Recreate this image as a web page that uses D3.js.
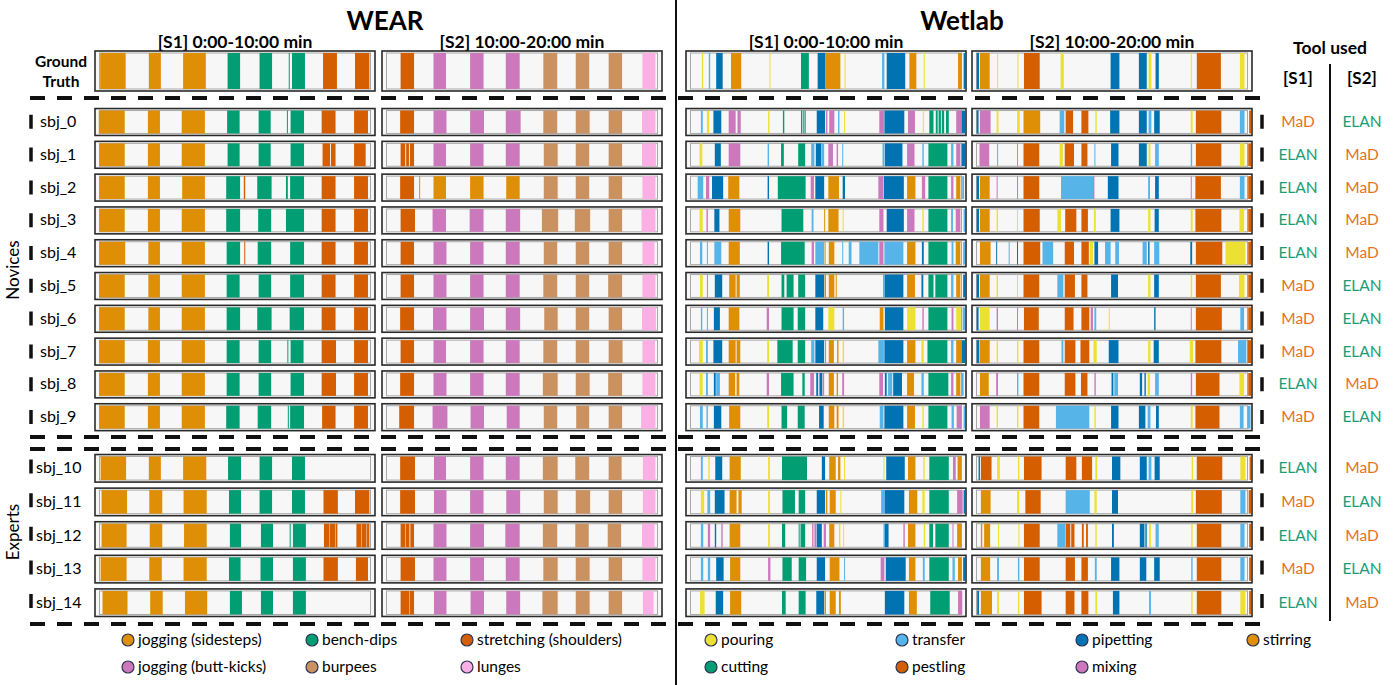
<!DOCTYPE html>
<html>
<head>
<meta charset="utf-8">
<script src="https://cdn.jsdelivr.net/npm/d3@7"></script>
<style>
  body { margin: 0; background: #fff; }
  svg { display: block; font-family: Lato, "Open Sans", "Liberation Sans", sans-serif; }
</style>
</head>
<body>
<svg id="chart" width="1400" height="685"></svg>
<script>
// ---------- rows ----------
const groundTruth = "Ground Truth";
const noviceRows = ["sbj_0","sbj_1","sbj_2","sbj_3","sbj_4","sbj_5","sbj_6","sbj_7","sbj_8","sbj_9"];
const expertRows = ["sbj_10","sbj_11","sbj_12","sbj_13","sbj_14"];
const allRows = [groundTruth, ...noviceRows, ...expertRows];

// annotation tool used per subject (session 1 / session 2)
const toolS1 = ["MaD","ELAN","ELAN","ELAN","ELAN","MaD","MaD","MaD","ELAN","MaD","ELAN","MaD","ELAN","MaD","ELAN"];
const toolS2 = ["ELAN","MaD","MaD","MaD","MaD","ELAN","ELAN","ELAN","MaD","ELAN","MaD","ELAN","MaD","ELAN","MaD"];

// ---------- activity classes ----------
const wearCodes = ["side","dips","stretch","butt","burp","lunge"];
const wearNames = ["jogging (sidesteps)","bench-dips","stretching (shoulders)","jogging (butt-kicks)","burpees","lunges"];
const wetCodes = ["pour","trans","pip","stir","cut","pest","mix"];
const wetNames = ["pouring","transfer","pipetting","stirring","cutting","pestling","mixing"];

// ---------- annotated segments [start s, end s, class], one list per row ----------
// WEAR, session 1 (0:00-10:00)
const wearS1 = [
  [[9,64,"side"],[114,140,"side"],[188,237,"side"],[284,311,"dips"],[353,380,"dips"],[416,418,"dips"],[423,451,"dips"],[490,520,"stretch"],[559,590,"stretch"]],
  [[6,62,"side"],[112,138,"side"],[185,235,"side"],[283,310,"dips"],[351,377,"dips"],[412,414,"dips"],[420,449,"dips"],[487,517,"stretch"],[557,587,"stretch"]],
  [[7,62,"side"],[112,138,"side"],[185,235,"side"],[284,310,"dips"],[351,377,"dips"],[420,449,"dips"],[489,505,"stretch"],[507,517,"stretch"],[557,582,"stretch"]],
  [[7,62,"side"],[112,138,"side"],[186,235,"side"],[281,311,"dips"],[319,322,"stretch"],[348,379,"dips"],[410,414,"dips"],[419,449,"dips"],[487,517,"stretch"],[557,587,"stretch"]],
  [[7,62,"side"],[112,138,"side"],[185,235,"side"],[281,311,"dips"],[350,378,"dips"],[410,449,"dips"],[487,517,"stretch"],[557,587,"stretch"]],
  [[7,63,"side"],[113,138,"side"],[185,235,"side"],[282,311,"dips"],[320,322,"stretch"],[349,378,"dips"],[419,449,"dips"],[487,517,"stretch"],[557,587,"stretch"]],
  [[7,62,"side"],[113,138,"side"],[185,235,"side"],[282,310,"dips"],[351,378,"dips"],[419,449,"dips"],[487,517,"stretch"],[557,587,"stretch"]],
  [[7,62,"side"],[113,138,"side"],[185,235,"side"],[282,311,"dips"],[348,379,"dips"],[418,449,"dips"],[487,517,"stretch"],[557,587,"stretch"]],
  [[7,62,"side"],[112,138,"side"],[185,235,"side"],[282,310,"dips"],[351,378,"dips"],[413,414,"dips"],[420,448,"dips"],[487,518,"stretch"],[557,587,"stretch"]],
  [[7,62,"side"],[112,138,"side"],[185,235,"side"],[282,310,"dips"],[351,378,"dips"],[420,449,"dips"],[487,518,"stretch"],[557,587,"stretch"]],
  [[7,62,"side"],[112,138,"side"],[185,235,"side"],[281,310,"dips"],[349,378,"dips"],[414,415,"dips"],[419,449,"dips"],[488,517,"stretch"],[557,587,"stretch"]],
  [[10,65,"side"],[114,140,"side"],[188,238,"side"],[285,313,"dips"],[353,380,"dips"],[423,451,"dips"]],
  [[12,67,"side"],[115,143,"side"],[189,239,"side"],[287,313,"dips"],[353,380,"dips"],[423,451,"dips"],[491,522,"stretch"],[559,590,"stretch"]],
  [[12,66,"side"],[116,143,"side"],[190,239,"side"],[289,313,"dips"],[356,382,"dips"],[418,419,"dips"],[425,453,"dips"],[492,504,"stretch"],[505,516,"stretch"],[517,521,"stretch"],[562,572,"stretch"],[573,584,"stretch"],[585,590,"stretch"]],
  [[10,66,"side"],[115,142,"side"],[189,239,"side"],[287,312,"dips"],[355,382,"dips"],[425,453,"dips"],[491,522,"stretch"],[561,587,"stretch"]],
  [[14,68,"side"],[117,144,"side"],[192,240,"side"],[289,315,"dips"],[356,382,"dips"],[425,453,"dips"]]
];

// WEAR, session 2 (10:00-20:00)
const wearS2 = [
  [[638,667,"stretch"],[709,736,"butt"],[788,817,"butt"],[865,895,"butt"],[946,976,"burp"],[1016,1045,"burp"],[1087,1116,"burp"],[1160,1188,"lunge"]],
  [[637,667,"stretch"],[709,737,"butt"],[788,818,"butt"],[865,897,"butt"],[946,976,"burp"],[1016,1046,"burp"],[1087,1116,"burp"],[1159,1188,"lunge"]],
  [[638,648,"stretch"],[650,656,"stretch"],[658,667,"stretch"],[709,736,"butt"],[788,817,"butt"],[865,895,"butt"],[947,977,"burp"],[1016,1045,"burp"],[1087,1116,"burp"],[1159,1189,"lunge"]],
  [[637,667,"stretch"],[678,680,"side"],[709,736,"side"],[788,817,"side"],[866,895,"side"],[947,977,"burp"],[1016,1045,"burp"],[1087,1116,"burp"],[1160,1188,"lunge"]],
  [[638,669,"stretch"],[707,736,"butt"],[787,817,"butt"],[865,896,"butt"],[943,978,"burp"],[1014,1047,"burp"],[1087,1116,"burp"],[1158,1188,"lunge"]],
  [[638,667,"stretch"],[709,737,"butt"],[788,817,"butt"],[865,895,"butt"],[947,976,"burp"],[1016,1045,"burp"],[1087,1116,"burp"],[1160,1186,"lunge"]],
  [[638,667,"stretch"],[709,737,"butt"],[788,817,"butt"],[865,895,"butt"],[946,976,"burp"],[1016,1045,"burp"],[1086,1116,"burp"],[1160,1188,"lunge"]],
  [[637,667,"stretch"],[708,737,"butt"],[788,818,"butt"],[865,896,"butt"],[948,977,"burp"],[1016,1045,"burp"],[1087,1116,"burp"],[1159,1189,"lunge"]],
  [[638,667,"stretch"],[709,736,"butt"],[788,817,"butt"],[865,895,"butt"],[946,976,"burp"],[1016,1045,"burp"],[1087,1117,"burp"],[1160,1187,"lunge"]],
  [[637,667,"stretch"],[709,737,"butt"],[788,817,"butt"],[865,895,"butt"],[945,977,"burp"],[1016,1046,"burp"],[1086,1116,"burp"],[1160,1188,"lunge"]],
  [[635,667,"stretch"],[707,739,"butt"],[789,818,"butt"],[867,895,"butt"],[947,976,"burp"],[1017,1045,"burp"],[1087,1116,"burp"],[1157,1188,"lunge"]],
  [[637,669,"stretch"],[710,736,"butt"],[788,817,"butt"],[865,895,"butt"],[945,977,"burp"],[1015,1045,"burp"],[1087,1115,"burp"],[1161,1188,"lunge"]],
  [[637,669,"stretch"],[710,737,"butt"],[788,817,"butt"],[866,896,"butt"],[947,977,"burp"],[1016,1047,"burp"],[1087,1116,"burp"],[1161,1188,"lunge"]],
  [[638,648,"stretch"],[649,657,"stretch"],[659,667,"stretch"],[709,737,"butt"],[788,818,"butt"],[864,895,"butt"],[945,976,"burp"],[1015,1044,"burp"],[1085,1114,"burp"],[1159,1186,"lunge"]],
  [[638,669,"stretch"],[709,737,"butt"],[788,818,"butt"],[865,895,"butt"],[946,977,"burp"],[1016,1046,"burp"],[1087,1116,"burp"],[1160,1188,"lunge"]],
  [[638,657,"stretch"],[658,667,"stretch"],[710,737,"butt"],[789,818,"butt"],[866,896,"butt"],[944,977,"burp"],[1016,1046,"burp"],[1087,1116,"burp"],[1161,1184,"lunge"]]
];

// Wetlab, session 1 (0:00-10:00)
const wetS1 = [
  [[32,35,"pour"],[47,50,"trans"],[63,77,"pip"],[95,117,"stir"],[178,180,"pour"],[246,263,"cut"],[282,299,"pip"],[300,331,"stir"],[340,342,"pour"],[421,426,"trans"],[431,471,"pip"],[480,495,"stir"],[511,513,"pour"],[585,593,"stir"],[597,600,"pip"]],
  [[30,34,"trans"],[43,48,"pour"],[57,74,"pip"],[90,105,"mix"],[109,116,"mix"],[175,178,"pour"],[207,210,"cut"],[246,249,"cut"],[251,253,"cut"],[254,256,"cut"],[280,298,"pip"],[300,303,"mix"],[307,318,"mix"],[326,329,"trans"],[339,341,"pour"],[415,425,"mix"],[426,469,"pip"],[477,492,"mix"],[509,511,"pour"],[523,532,"cut"],[537,541,"cut"],[543,548,"cut"],[550,555,"cut"],[559,565,"cut"],[581,592,"mix"],[593,600,"pip"]],
  [[27,33,"pour"],[60,73,"pip"],[90,115,"mix"],[174,177,"trans"],[203,209,"cut"],[240,255,"cut"],[268,275,"trans"],[278,290,"pip"],[291,296,"trans"],[305,315,"mix"],[323,326,"mix"],[335,337,"trans"],[422,426,"trans"],[427,465,"pip"],[475,491,"mix"],[508,511,"trans"],[521,562,"cut"],[570,575,"trans"],[581,590,"mix"],[593,600,"pip"]],
  [[23,35,"trans"],[41,48,"mix"],[54,78,"pip"],[89,113,"stir"],[174,177,"pip"],[196,256,"cut"],[267,274,"mix"],[277,296,"pip"],[305,328,"stir"],[336,341,"pip"],[413,424,"mix"],[425,468,"pip"],[475,493,"stir"],[507,514,"mix"],[521,562,"cut"],[570,575,"mix"],[581,590,"stir"],[594,598,"trans"]],
  [[27,34,"pour"],[42,45,"mix"],[59,70,"pip"],[90,115,"stir"],[204,251,"cut"],[269,273,"trans"],[296,298,"stir"],[305,327,"stir"],[336,338,"pour"],[415,424,"mix"],[431,468,"pip"],[475,491,"mix"],[508,511,"pour"],[521,562,"cut"],[570,574,"trans"],[580,590,"mix"],[597,600,"trans"]],
  [[28,33,"trans"],[43,45,"trans"],[59,74,"trans"],[90,114,"stir"],[174,177,"pip"],[203,254,"cut"],[269,274,"mix"],[277,296,"trans"],[297,299,"stir"],[306,318,"stir"],[335,337,"trans"],[349,355,"trans"],[372,413,"trans"],[415,424,"mix"],[426,467,"trans"],[475,493,"stir"],[507,511,"pip"],[521,562,"cut"],[571,575,"trans"],[580,590,"stir"],[596,600,"trans"]],
  [[28,34,"pour"],[43,45,"mix"],[60,76,"pip"],[91,105,"stir"],[107,114,"stir"],[173,177,"pour"],[204,210,"cut"],[215,230,"cut"],[240,255,"cut"],[277,296,"pip"],[297,300,"stir"],[306,318,"stir"],[321,323,"stir"],[423,427,"trans"],[427,467,"pip"],[475,492,"stir"],[506,510,"pip"],[521,532,"cut"],[536,562,"cut"],[570,575,"trans"],[581,590,"stir"],[596,600,"pip"]],
  [[30,33,"trans"],[43,45,"trans"],[58,71,"pip"],[90,113,"stir"],[172,177,"mix"],[204,230,"cut"],[239,255,"cut"],[277,294,"pip"],[305,318,"pour"],[336,339,"trans"],[416,424,"stir"],[427,467,"pip"],[475,493,"pour"],[508,511,"mix"],[521,562,"cut"],[571,575,"mix"],[581,591,"pour"],[595,600,"trans"]],
  [[26,34,"pour"],[41,45,"trans"],[57,76,"pip"],[90,105,"stir"],[107,115,"stir"],[173,177,"pour"],[195,228,"cut"],[239,255,"cut"],[268,275,"trans"],[277,296,"pip"],[298,300,"stir"],[306,317,"stir"],[324,327,"stir"],[336,339,"pour"],[413,425,"trans"],[426,467,"pip"],[475,493,"stir"],[506,511,"pour"],[519,562,"cut"],[570,575,"trans"],[581,592,"stir"],[593,600,"pip"]],
  [[27,34,"pour"],[41,45,"trans"],[58,62,"pip"],[63,71,"trans"],[90,104,"stir"],[107,113,"stir"],[172,177,"mix"],[203,230,"cut"],[249,254,"cut"],[266,274,"mix"],[279,283,"pip"],[285,287,"mix"],[287,292,"pip"],[293,296,"mix"],[306,317,"stir"],[323,326,"stir"],[335,339,"mix"],[415,423,"mix"],[427,431,"pip"],[434,443,"trans"],[445,464,"pip"],[475,490,"stir"],[506,511,"trans"],[521,564,"cut"],[570,575,"mix"],[581,590,"stir"],[593,597,"trans"]],
  [[28,34,"trans"],[42,45,"trans"],[58,74,"pip"],[91,115,"stir"],[173,177,"pour"],[204,216,"cut"],[239,254,"cut"],[285,295,"pip"],[306,318,"stir"],[323,327,"stir"],[336,339,"pour"],[416,424,"trans"],[426,467,"pip"],[475,492,"stir"],[508,511,"pour"],[521,562,"cut"],[571,576,"trans"],[582,592,"mix"],[597,600,"trans"]],
  [[30,34,"trans"],[46,49,"pour"],[61,76,"pip"],[92,116,"stir"],[175,179,"pour"],[205,259,"cut"],[291,298,"pip"],[307,321,"stir"],[326,331,"stir"],[339,341,"pour"],[424,426,"pour"],[430,470,"pip"],[477,493,"stir"],[510,513,"pour"],[523,565,"cut"],[574,580,"mix"],[584,592,"stir"]],
  [[30,37,"pour"],[44,50,"trans"],[60,81,"pip"],[92,107,"stir"],[111,118,"stir"],[175,179,"pour"],[206,233,"cut"],[241,255,"cut"],[280,298,"pip"],[300,303,"stir"],[308,321,"stir"],[331,333,"pour"],[419,427,"trans"],[427,469,"pip"],[479,497,"stir"],[508,513,"pour"],[523,565,"cut"],[583,595,"mix"],[597,600,"pip"]],
  [[30,35,"trans"],[45,50,"mix"],[60,63,"pip"],[74,77,"mix"],[92,115,"stir"],[175,179,"pour"],[205,212,"cut"],[241,243,"cut"],[245,255,"cut"],[270,273,"mix"],[275,279,"mix"],[280,291,"pip"],[295,300,"mix"],[307,318,"stir"],[328,331,"pour"],[337,339,"pour"],[424,427,"trans"],[427,435,"pip"],[467,470,"mix"],[477,493,"stir"],[511,514,"pour"],[523,531,"cut"],[536,565,"cut"],[573,575,"mix"],[583,592,"stir"]],
  [[30,35,"trans"],[45,50,"trans"],[63,79,"pip"],[93,115,"stir"],[175,180,"mix"],[206,226,"cut"],[241,257,"cut"],[280,298,"pip"],[308,329,"stir"],[339,341,"trans"],[418,426,"mix"],[429,472,"pip"],[479,493,"stir"],[509,513,"trans"],[523,565,"cut"],[573,578,"trans"],[585,592,"stir"],[596,600,"pip"]],
  [[28,38,"pour"],[62,78,"pip"],[93,117,"stir"],[205,213,"cut"],[241,256,"cut"],[279,296,"pip"],[297,300,"stir"],[308,321,"stir"],[328,332,"stir"],[427,469,"pip"],[479,496,"stir"],[525,567,"cut"],[585,594,"mix"]]
];

// Wetlab, session 2 (10:00-20:00)
const wetS2 = [
  [[608,613,"pip"],[615,636,"stir"],[652,654,"pour"],[696,698,"pour"],[710,744,"pest"],[789,796,"pour"],[897,916,"pip"],[958,975,"pip"],[979,985,"pour"],[994,1001,"pip"],[1070,1072,"pour"],[1083,1135,"pest"],[1176,1186,"pour"]],
  [[608,612,"pip"],[615,638,"mix"],[651,655,"pour"],[695,701,"pour"],[709,745,"stir"],[787,797,"trans"],[800,816,"pest"],[834,849,"pest"],[864,867,"pour"],[896,916,"pip"],[958,975,"pip"],[979,985,"trans"],[991,1003,"pip"],[1070,1074,"pour"],[1081,1136,"pest"],[1176,1186,"trans"],[1196,1200,"pest"]],
  [[614,635,"mix"],[652,654,"trans"],[695,697,"trans"],[709,743,"pest"],[787,794,"pour"],[798,818,"pest"],[834,847,"pest"],[862,864,"trans"],[898,914,"pip"],[958,975,"pip"],[979,983,"pour"],[993,1001,"trans"],[1070,1073,"trans"],[1081,1136,"pest"],[1176,1186,"pour"],[1194,1200,"pest"]],
  [[608,613,"pip"],[615,636,"stir"],[651,653,"mix"],[695,697,"mix"],[709,743,"pest"],[790,859,"trans"],[859,862,"mix"],[891,914,"pip"],[978,982,"trans"],[993,1001,"pip"],[1070,1072,"mix"],[1080,1135,"pest"],[1176,1186,"trans"],[1194,1200,"pest"]],
  [[608,613,"pip"],[615,636,"stir"],[651,654,"pour"],[695,697,"pour"],[709,744,"pest"],[782,790,"pour"],[799,823,"pest"],[834,848,"pest"],[861,865,"pour"],[897,916,"pip"],[978,983,"pour"],[992,1001,"pip"],[1070,1074,"pour"],[1080,1136,"pest"],[1175,1185,"pour"],[1194,1200,"pest"]],
  [[615,638,"stir"],[650,652,"pip"],[677,679,"trans"],[695,697,"pip"],[709,745,"pest"],[750,773,"trans"],[798,818,"pest"],[834,850,"pest"],[852,859,"pour"],[862,870,"pip"],[885,897,"trans"],[907,915,"trans"],[966,975,"trans"],[978,981,"pip"],[991,1002,"trans"],[1069,1073,"pip"],[1081,1138,"pest"],[1145,1188,"pour"],[1194,1200,"pest"]],
  [[608,613,"pip"],[615,636,"stir"],[651,654,"pour"],[695,697,"pour"],[709,743,"pest"],[782,795,"trans"],[798,820,"pest"],[834,847,"pest"],[898,913,"pip"],[978,983,"pour"],[991,1001,"pip"],[1070,1073,"pour"],[1081,1135,"pest"],[1174,1186,"pour"],[1194,1200,"pest"]],
  [[608,612,"pip"],[615,636,"pour"],[651,654,"mix"],[695,697,"mix"],[710,742,"pest"],[798,817,"pest"],[834,851,"pest"],[854,859,"mix"],[862,866,"trans"],[893,895,"pour"],[991,994,"pip"],[1070,1072,"mix"],[1081,1137,"pest"],[1177,1185,"trans"],[1194,1200,"pest"]],
  [[608,613,"pip"],[614,636,"stir"],[651,654,"pour"],[695,698,"pour"],[709,743,"pest"],[791,795,"trans"],[798,821,"pest"],[832,851,"pest"],[860,867,"pour"],[893,914,"pip"],[978,983,"pour"],[990,1001,"pip"],[1068,1075,"pour"],[1080,1136,"pest"],[1172,1190,"trans"],[1193,1200,"pest"]],
  [[615,634,"stir"],[650,654,"mix"],[695,698,"trans"],[709,743,"pest"],[798,821,"pest"],[833,847,"pest"],[862,865,"mix"],[899,903,"pip"],[905,913,"trans"],[960,965,"pip"],[970,973,"pip"],[977,982,"pour"],[993,1001,"trans"],[1070,1073,"mix"],[1081,1132,"pest"],[1175,1185,"pour"],[1194,1200,"pest"]],
  [[615,636,"mix"],[651,654,"pour"],[695,698,"pour"],[709,743,"pest"],[779,851,"trans"],[862,865,"pour"],[898,914,"pip"],[958,972,"pip"],[977,983,"trans"],[995,1001,"pip"],[1070,1074,"pour"],[1080,1132,"pest"],[1176,1184,"trans"],[1193,1199,"trans"]],
  [[612,615,"pip"],[617,640,"pest"],[652,658,"pour"],[697,700,"pour"],[710,748,"pest"],[800,823,"pest"],[835,857,"pest"],[864,868,"pour"],[900,918,"pip"],[960,975,"pip"],[979,985,"trans"],[992,1003,"pip"],[1072,1075,"pour"],[1083,1138,"pest"],[1177,1188,"pour"],[1197,1200,"pest"]],
  [[617,638,"stir"],[695,700,"pour"],[713,746,"pest"],[800,852,"trans"],[862,867,"pour"],[900,913,"pip"],[1071,1075,"pour"],[1081,1137,"pest"],[1177,1188,"trans"],[1195,1200,"pest"]],
  [[617,620,"stir"],[624,637,"stir"],[654,656,"pour"],[698,700,"pour"],[710,744,"pest"],[782,799,"trans"],[800,810,"pest"],[812,819,"pest"],[835,839,"pest"],[844,848,"pest"],[864,867,"pour"],[900,904,"pip"],[960,970,"pip"],[972,975,"pip"],[980,984,"pour"],[994,1001,"trans"],[1071,1074,"pour"],[1083,1136,"pest"],[1177,1186,"trans"],[1196,1200,"pest"]],
  [[617,637,"stir"],[652,656,"trans"],[697,700,"trans"],[710,744,"pest"],[800,820,"pest"],[834,848,"pest"],[863,867,"trans"],[898,916,"pip"],[960,974,"pip"],[991,1003,"pip"],[1071,1074,"trans"],[1083,1136,"pest"],[1177,1186,"trans"],[1196,1200,"pest"]],
  [[609,613,"pip"],[617,641,"stir"],[652,656,"pour"],[697,700,"pour"],[710,748,"pest"],[800,819,"pest"],[834,849,"pest"],[864,868,"pour"],[902,916,"pip"],[980,984,"trans"],[1071,1074,"pour"],[1083,1136,"pest"],[1177,1188,"pour"],[1196,1200,"pest"]]
];

// ---------- styling ----------
const wearColor = d3.scaleOrdinal().domain(wearCodes)
  .range(["#DE8F05","#029E73","#D55E00","#CC78BC","#CA9161","#FBAFE4"]);
const wetColor = d3.scaleOrdinal().domain(wetCodes)
  .range(["#ECE133","#56B4E9","#0173B2","#DE8F05","#029E73","#D55E00","#CC78BC"]);
const toolColor = d3.scaleOrdinal().domain(["MaD","ELAN"]).range(["#E3731F","#1A9E77"]);

const svg = d3.select("#chart");
const panelW = 280;

const panels = [
  { data: wearS1, domain: [0, 600],    x0: 95,  color: wearColor, title: "[S1] 0:00-10:00 min" },
  { data: wearS2, domain: [600, 1200], x0: 382, color: wearColor, title: "[S2] 10:00-20:00 min" },
  { data: wetS1,  domain: [0, 600],    x0: 686, color: wetColor,  title: "[S1] 0:00-10:00 min" },
  { data: wetS2,  domain: [600, 1200], x0: 972, color: wetColor,  title: "[S2] 10:00-20:00 min" }
];

// vertical placement of rows
const noviceY = d3.scaleBand().domain(noviceRows).range([105.6, 433.6]).paddingInner(0.18).paddingOuter(0.09);
const expertY = d3.scaleBand().domain(expertRows).range([451.5, 619.5]).paddingInner(0.18).paddingOuter(0.09);
function rowBox(r) {
  if (r === groundTruth) return { y: 51, h: 40 };
  if (noviceRows.includes(r)) return { y: noviceY(r), h: noviceY.bandwidth() };
  return { y: expertY(r), h: expertY.bandwidth() };
}

// ---------- titles ----------
svg.append("text").attr("x", 385).attr("y", 30).attr("text-anchor", "middle")
  .attr("font-size", 26).attr("font-weight", "bold").text("WEAR");
svg.append("text").attr("x", 962).attr("y", 30).attr("text-anchor", "middle")
  .attr("font-size", 26).attr("font-weight", "bold").text("Wetlab");

// ---------- timelines ----------
panels.forEach(p => {
  const x = d3.scaleLinear().domain(p.domain).range([p.x0 + 1, p.x0 + panelW - 1]);
  svg.append("text").attr("x", p.x0 + panelW / 2).attr("y", 48).attr("text-anchor", "middle")
    .attr("font-size", 17.5).attr("font-weight", "bold").text(p.title);

  allRows.forEach((r, i) => {
    const b = rowBox(r);
    const g = svg.append("g");
    g.append("rect").attr("x", p.x0).attr("y", b.y).attr("width", panelW).attr("height", b.h)
      .attr("fill", "#f7f7f7").attr("stroke", "#2a2a2a").attr("stroke-width", 1.6);
    g.append("rect").attr("x", p.x0 + 4.5).attr("y", b.y + 2).attr("width", panelW - 9).attr("height", b.h - 4)
      .attr("fill", "none").attr("stroke", "#a8a8a8").attr("stroke-width", 1);
    g.selectAll("rect.seg").data(p.data[i]).join("rect").attr("class", "seg")
      .attr("x", d => x(d[0]))
      .attr("width", d => Math.max(x(d[1]) - x(d[0]), 1))
      .attr("y", b.y + 2).attr("height", b.h - 4)
      .attr("fill", d => p.color(d[2]));
  });
});

// ---------- row labels ----------
svg.append("text").attr("x", 61).attr("y", 67).attr("text-anchor", "middle")
  .attr("font-size", 15.5).attr("font-weight", "bold").text("Ground");
svg.append("text").attr("x", 61).attr("y", 87).attr("text-anchor", "middle")
  .attr("font-size", 15.5).attr("font-weight", "bold").text("Truth");
noviceRows.forEach(r => {
  svg.append("text").attr("x", 40).attr("y", noviceY(r) + noviceY.bandwidth() / 2 + 5)
    .attr("font-size", 16).text(r);
});
expertRows.forEach(r => {
  svg.append("text").attr("x", 36).attr("y", expertY(r) + expertY.bandwidth() / 2 + 5)
    .attr("font-size", 16).text(r);
});
svg.append("text").attr("transform", "translate(19,270) rotate(-90)").attr("text-anchor", "middle")
  .attr("font-size", 17).text("Novices");
svg.append("text").attr("transform", "translate(19,532) rotate(-90)").attr("text-anchor", "middle")
  .attr("font-size", 17).text("Experts");

// ---------- group frames (dashed) ----------
function hDash(y) {
  svg.append("line").attr("x1", 30).attr("x2", 1262).attr("y1", y).attr("y2", y)
    .attr("stroke", "#111").attr("stroke-width", 4).attr("stroke-dasharray", "15,12");
}
function vDash(x, y1, y2, period, offset) {
  svg.append("line").attr("x1", x).attr("x2", x).attr("y1", y1).attr("y2", y2)
    .attr("stroke", "#111").attr("stroke-width", 3.5)
    .attr("stroke-dasharray", `14,${period - 14}`).attr("stroke-dashoffset", offset);
}
hDash(98); hDash(437); hDash(449); hDash(624);
vDash(31, 98, 437, noviceY.step(), 16);
vDash(1262, 98, 437, noviceY.step(), 16);
vDash(31, 449, 624, expertY.step(), 23);
vDash(1262, 449, 624, expertY.step(), 23);

// divider between datasets
svg.append("line").attr("x1", 676).attr("x2", 676).attr("y1", 0).attr("y2", 685)
  .attr("stroke", "#111").attr("stroke-width", 2);

// ---------- tool used ----------
svg.append("text").attr("x", 1330).attr("y", 54).attr("text-anchor", "middle")
  .attr("font-size", 17.5).attr("font-weight", "bold").text("Tool used");
svg.append("text").attr("x", 1298).attr("y", 84).attr("text-anchor", "middle")
  .attr("font-size", 17).attr("font-weight", "bold").text("[S1]");
svg.append("text").attr("x", 1362).attr("y", 84).attr("text-anchor", "middle")
  .attr("font-size", 17).attr("font-weight", "bold").text("[S2]");
svg.append("line").attr("x1", 1330).attr("x2", 1330).attr("y1", 64).attr("y2", 621)
  .attr("stroke", "#111").attr("stroke-width", 2);
[...noviceRows, ...expertRows].forEach((r, i) => {
  const b = rowBox(r);
  const cy = b.y + b.h / 2 + 5;
  svg.append("text").attr("x", 1298).attr("y", cy).attr("text-anchor", "middle")
    .attr("font-size", 15.5).attr("fill", toolColor(toolS1[i])).text(toolS1[i]);
  svg.append("text").attr("x", 1362).attr("y", cy).attr("text-anchor", "middle")
    .attr("font-size", 15.5).attr("fill", toolColor(toolS2[i])).text(toolS2[i]);
});

// ---------- legends ----------
function legend(codes, names, color, xs, ys) {
  codes.forEach((c, i) => {
    const cx = xs[i % xs.length], cy = ys[Math.floor(i / xs.length)];
    svg.append("circle").attr("cx", cx).attr("cy", cy).attr("r", 6)
      .attr("fill", color(c)).attr("stroke", "#2d3350").attr("stroke-width", 1.2);
    svg.append("text").attr("x", cx + 10).attr("y", cy + 5).attr("font-size", 15.5).text(names[i]);
  });
}
legend(wearCodes, wearNames, wearColor, [128, 312, 467], [640, 667]);
legend(wetCodes, wetNames, wetColor, [711, 902, 1082, 1253], [640, 667]);
</script>
</body>
</html>
